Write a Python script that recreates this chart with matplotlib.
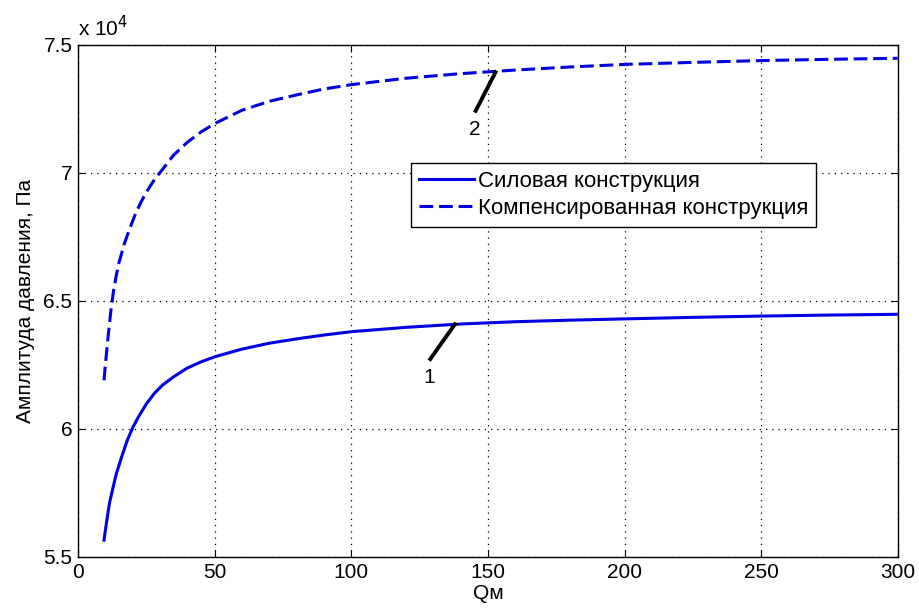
import numpy as np
import matplotlib.pyplot as plt

plt.rcParams['font.family'] = ['Liberation Sans', 'DejaVu Sans']

# values, pressure in Pa
qm_power = [9.5, 10.5, 11.5, 12.9, 14, 16, 18, 20, 22, 25, 28, 31, 35, 40, 45, 50, 60, 70, 80,
            90, 100, 120, 140, 160, 180, 200, 225, 250, 275, 300]
p_power = [55660, 56400, 57100, 57750, 58250, 58920, 59550, 60050, 60450, 60980, 61400, 61720,
           62040, 62380, 62620, 62820, 63120, 63350, 63520, 63670, 63800, 63970, 64100, 64190,
           64250, 64300, 64360, 64410, 64450, 64480]
qm_comp = [9.5, 10, 11, 12, 13, 14, 15, 17, 19, 21, 23, 25, 28, 31, 35, 40, 45, 50, 60, 70, 80,
           90, 100, 120, 140, 160, 180, 200, 225, 250, 275, 300]
p_comp = [61900, 62500, 63600, 64600, 65400, 66000, 66500, 67250, 67850, 68400, 68850, 69250,
          69750, 70150, 70700, 71200, 71600, 71930, 72450, 72800, 73050, 73280, 73450, 73700,
          73880, 74020, 74140, 74240, 74320, 74390, 74440, 74480]
# legend
names = ['Силовая конструкция', 'Компенсированная конструкция']
# curve markers: label, line start (x, y), line end (x, y)
marks = [('1', (128.5, 62670), (138.3, 64150)),
         ('2', (145.2, 72360), (153.1, 74000))]

fig = plt.figure(figsize=(9.19, 6.11), dpi=100)
ax = fig.add_axes([0.0849, 0.0884, 0.892, 0.838])

ax.plot(qm_power, np.array(p_power) / 1e4, color='#0000e0', lw=2.2, label=names[0])
ax.plot(qm_comp, np.array(p_comp) / 1e4, color='#0000e0', lw=2.2, ls='--', dashes=(4.5, 1.9),
        label=names[1])

for txt, (x0, y0), (x1, y1) in marks:
    ax.plot([x0, x1], [y0 / 1e4, y1 / 1e4], color='black', lw=2.8, solid_capstyle='butt')
    ax.text(x0, y0 / 1e4 - 0.03, txt, fontsize=15, ha='center', va='top')

ax.set_xlim(0, 300)
ax.set_ylim(5.5, 7.5)
ax.set_xticks(np.arange(0, 301, 50))
ax.set_yticks([5.5, 6, 6.5, 7, 7.5])
ax.set_yticklabels(['5.5', '6', '6.5', '7', '7.5'])
ax.tick_params(direction='in', top=True, right=True, labelsize=15, length=5, pad=4)
ax.grid(True, color='black', ls=(0, (1, 4)), lw=0.9)
for s in ax.spines.values():
    s.set_linewidth(1.0)

ax.set_xlabel('Qм', fontsize=15, labelpad=2)
ax.set_ylabel('Амплитуда давления, Па', fontsize=15, labelpad=6)
ax.text(0.0, 1.01, 'x 10$^4$', transform=ax.transAxes, fontsize=15, va='bottom', ha='left')

leg = ax.legend(loc='upper left', bbox_to_anchor=(0.406, 0.77), fontsize=16, frameon=True,
                fancybox=False, edgecolor='black', framealpha=1, handlelength=2.5,
                handletextpad=0.15, borderpad=0.35, labelspacing=0.3, borderaxespad=0)
leg.get_frame().set_linewidth(1.0)

fig.savefig('out.png', dpi=100)
